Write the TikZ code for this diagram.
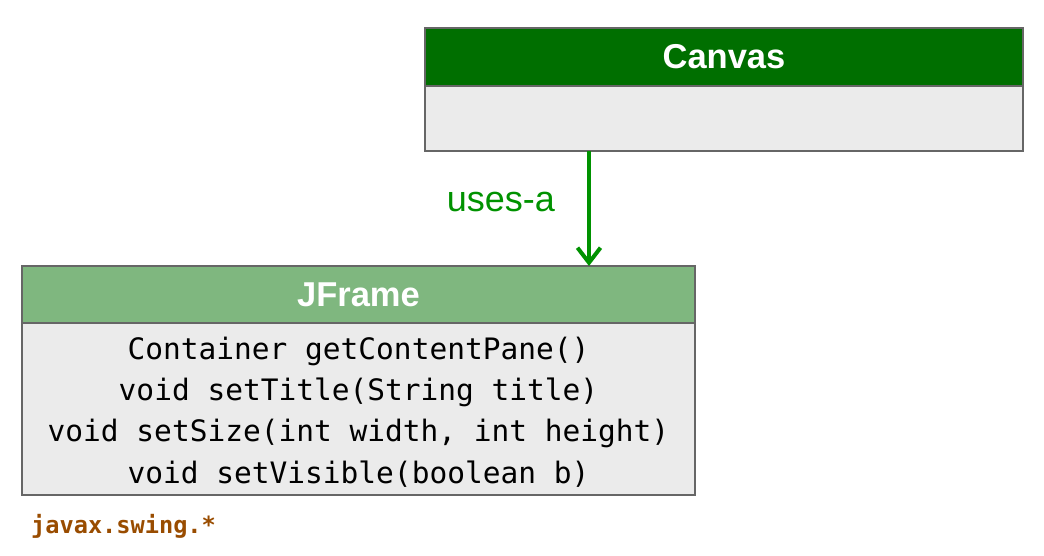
\documentclass[tikz,border=0pt]{standalone}
\usepackage{fontspec}
\setmainfont{Liberation Sans}
\setmonofont{DejaVu Sans Mono}
\usepackage{xcolor}
\usepackage{tikz}
\usetikzlibrary{arrows.meta}
\usetikzlibrary{positioning}
\definecolor{canvasGreen}{RGB}{0,111,0}
\definecolor{frameGreen}{RGB}{127,183,127}
\definecolor{bodyGray}{RGB}{235,235,235}
\definecolor{borderGray}{RGB}{102,102,102}
\definecolor{usesGreen}{RGB}{0,146,0}
\definecolor{pkgBrown}{RGB}{153,76,0}
\tikzset{%
  % Specifications for style of nodes:
  classBase/.style = {rectangle, draw=borderGray, line width=2pt,
    inner sep=0pt, outer sep=0pt},
  classHead/.style = {classBase, minimum height=57pt, text=white,
    font=\fontsize{34.5}{40}\selectfont\bfseries},
  classBody/.style = {classBase, fill=bodyGray, align=center,
    font=\fontsize{29.5}{41.3}\selectfont\ttfamily},
  usesArrow/.style = {draw=usesGreen, line width=4pt,
    -{Straight Barb[length=15pt,width=23pt,line width=4pt]}},
}

\begin{document}
\begin{tikzpicture}[x=1pt, y=-1pt]
        \useasboundingbox (0,0) rectangle (1044,556);
        % Specification of nodes (position, etc.)
        \node(CanvasHead)[classHead, fill=canvasGreen, minimum width=598pt, minimum height=58pt] at (724,57) {Canvas};
        \node(CanvasBody)[classBody, minimum width=598pt, minimum height=65pt, below=0pt of CanvasHead]{};
        \node(FrameHead)[classHead, fill=frameGreen, minimum width=673pt] at (358.5,294.5) {JFrame};
        \node(FrameBody)[classBody, minimum width=673pt, minimum height=172pt, below=0pt of FrameHead]{%
          \rule{0pt}{28pt}Container getContentPane()\\
          void setTitle(String title)\\
          void setSize(int width, int height)\\
          void setVisible(boolean b)};
        \node(Pkg)[anchor=base west, inner sep=0pt, text=pkgBrown,
          font=\fontsize{23.6}{28}\selectfont\ttfamily\bfseries] at (31,533) {javax.swing.*};
        \coordinate (UsesX) at (589,0);
        \draw[usesArrow](CanvasBody.south -| UsesX) -- node[pos=0.447, left=32pt, inner sep=0pt, text=usesGreen,
          font=\fontsize{36}{40}\selectfont]{uses-a} (FrameHead.north -| UsesX);
    \end{tikzpicture}
\end{document}
